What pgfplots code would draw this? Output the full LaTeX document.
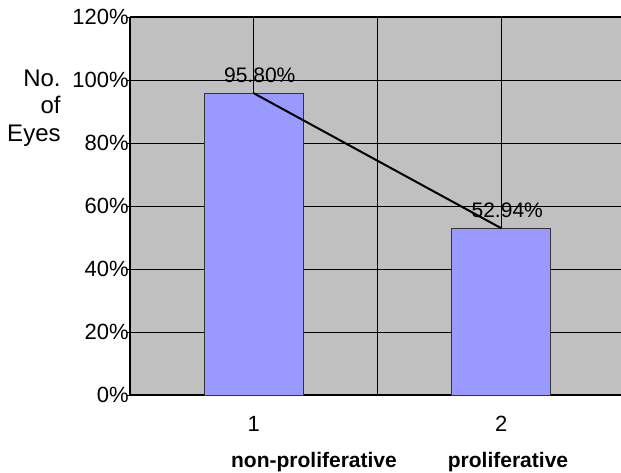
\documentclass[border=0pt]{standalone}
\usepackage{fontspec}
\setmainfont{Liberation Sans}
\usepackage{pgfplots}
\pgfplotsset{compat=1.18}

\definecolor{plotgray}{HTML}{C0C0C0}
\definecolor{barblue}{HTML}{9999FF}

\begin{document}
\fontsize{10}{12}\selectfont
\begin{tikzpicture}
\begin{axis}[
  at={(0,0)}, anchor=south west,
  scale only axis,
  width=245.5pt, height=189pt,
  xmin=0.5, xmax=2.4838,
  ymin=0, ymax=120,
  axis y line*=left,
  axis background/.style={fill=plotgray},
  axis line style={black, line width=0.8pt},
  ytick={0,20,...,120},
  yticklabels={0\%,20\%,40\%,60\%,80\%,100\%,120\%},
  y tick label style={font=\fontsize{11}{13}\selectfont, inner sep=0pt, xshift=1.5pt},
  ytick style={black, line width=0.5pt},
  ymajorgrids,
  major grid style={black, line width=0.5pt},
  tick align=outside,
  major tick length=2pt,
  xtick={1,2},
  xticklabels={1,2},
  x tick label style={font=\fontsize{11}{13}\selectfont, yshift=-5pt},
  xtick style={draw=none},
  xmajorgrids,
  extra x ticks={1.5},
  extra x tick labels={},
  extra x tick style={tick style={black, line width=0.5pt}, major tick length=5pt},
  clip=false,
]
\addplot[ybar, bar width=49.5pt, fill=barblue, draw=black!80, line width=0.5pt]
  coordinates {(1,95.80) (2,52.94)};
\addplot[black, line width=1pt,
  point meta=explicit symbolic,
  nodes near coords,
  nodes near coords style={anchor=base, inner sep=0pt, yshift=5.5pt, xshift=3pt, text=black, font=\fontsize{10.5}{12}\selectfont}]
  coordinates {(1,95.80) [95.80\%] (2,52.94) [52.94\%]};
\end{axis}
\node[anchor=base, font=\bfseries\fontsize{10.5}{12}\selectfont] at (92pt,-36pt) {non-proliferative};
\node[anchor=base, font=\bfseries\fontsize{10.5}{12}\selectfont] at (189pt,-36pt) {proliferative};
\node[anchor=base east, inner sep=0pt, font=\fontsize{12}{14}\selectfont] at (-34.5pt,154pt) {No.};
\node[anchor=base east, inner sep=0pt, font=\fontsize{12}{14}\selectfont] at (-34.5pt,140.5pt) {of};
\node[anchor=base east, inner sep=0pt, font=\fontsize{12}{14}\selectfont] at (-34.5pt,127pt) {Eyes};
\pgfresetboundingbox
\path[use as bounding box] (-65pt,-38.5pt) rectangle (245.5pt,197.5pt);
\end{tikzpicture}
\end{document}
